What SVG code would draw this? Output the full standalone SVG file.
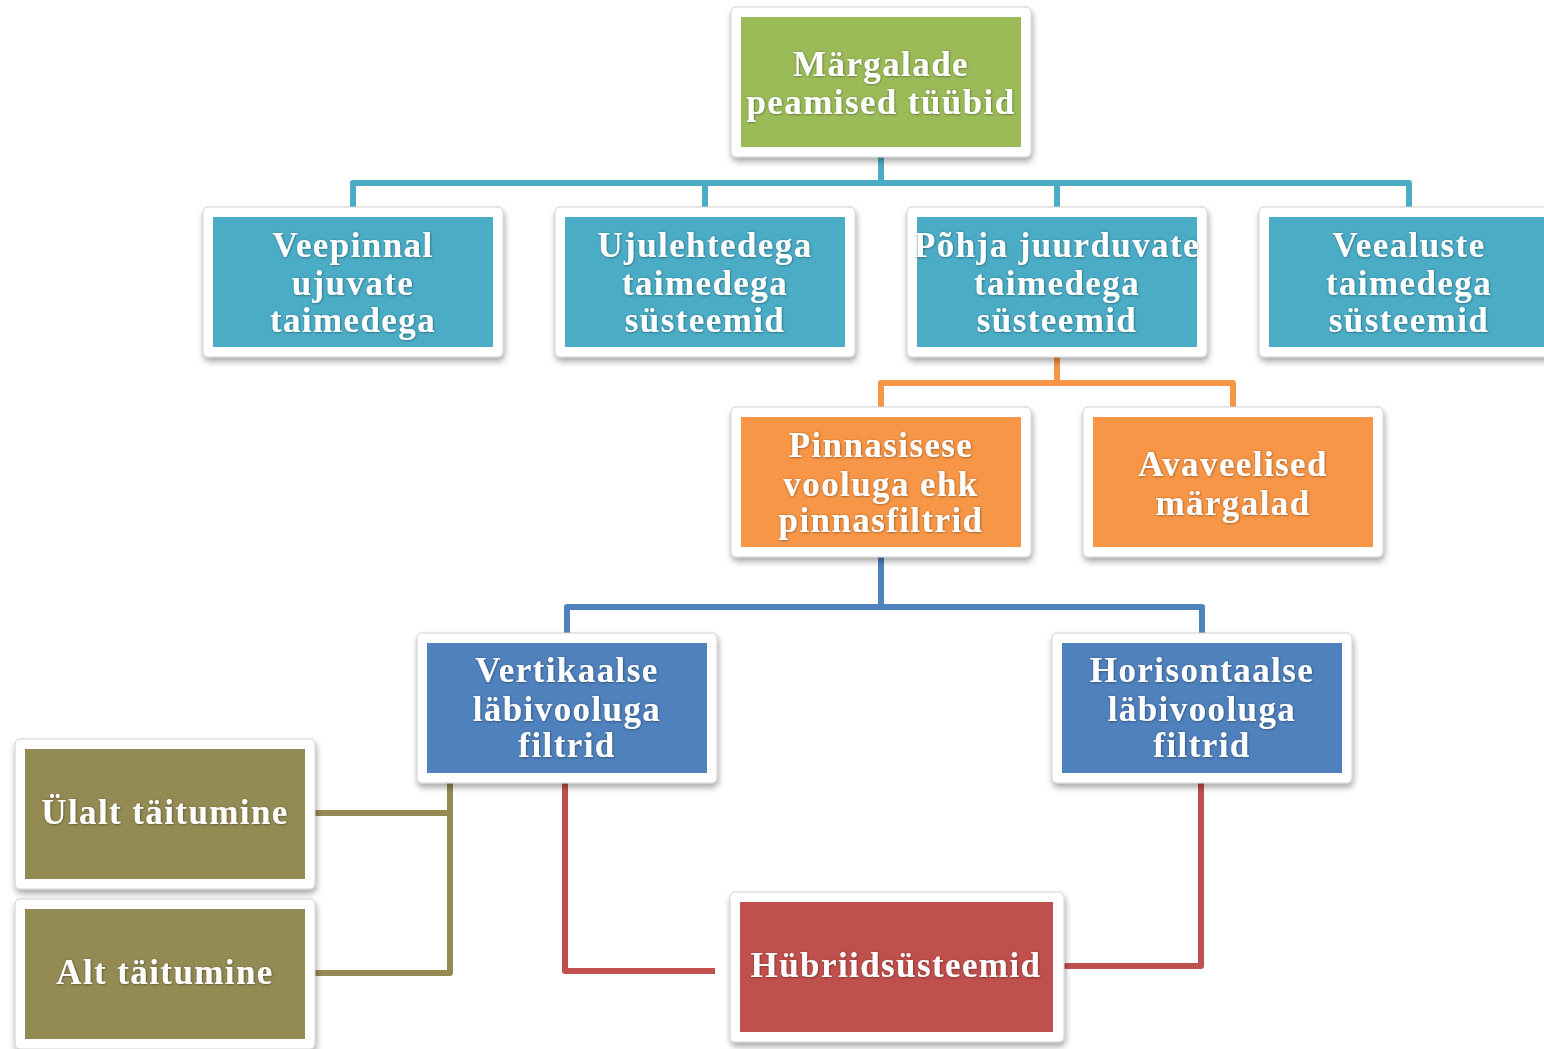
<svg xmlns="http://www.w3.org/2000/svg" width="1544" height="1049" viewBox="0 0 1544 1049">
<defs>
<filter id="sh" x="-10%" y="-10%" width="125%" height="130%">
<feDropShadow dx="1" dy="4" stdDeviation="3" flood-color="#000" flood-opacity="0.35"/>
</filter>
<filter id="ts" x="-5%" y="-20%" width="110%" height="150%">
<feDropShadow dx="0.5" dy="0.5" stdDeviation="0.8" flood-color="#000" flood-opacity="0.45"/>
</filter>
<style>
.frame{fill:#fff;stroke:#d0d0d0;stroke-width:1;filter:url(#sh)}
.t{font-family:"Liberation Serif","DejaVu Serif",serif;font-weight:bold;font-size:35px;fill:#fff;text-anchor:middle;letter-spacing:1.4px;filter:url(#ts)}
.c{fill:none;stroke-width:6;stroke-linejoin:round}
</style>
</defs>
<rect width="1544" height="1049" fill="#fff"/>
<g id="connectors">
<path class="c" stroke="#4BACC6" d="M881 157V183M353 207V183H1409V207M705 183V207M1057 183V207"/>
<path class="c" stroke="#F79646" d="M1057 357V383M881 407V383H1233V407"/>
<path class="c" stroke="#4F81BD" d="M881 557V607M567 633V607H1202V633"/>
<path class="c" stroke="#948A54" d="M450 783V973H315M450 813H315"/>
<path class="c" stroke="#C0504D" d="M565 783V971H715M1201 783V966H1064"/>
</g>
<g id="n0"><rect class="frame" x="731" y="7" width="300" height="150" rx="5"/><rect x="741" y="17" width="280" height="130" fill="#9BBB59"/>
<text class="t" x="881"><tspan x="881" y="76">Märgalade</tspan><tspan x="881" y="114">peamised tüübid</tspan></text></g>
<g id="n1"><rect class="frame" x="203" y="207" width="300" height="150" rx="5"/><rect x="213" y="217" width="280" height="130" fill="#4BACC6"/>
<text class="t"><tspan x="353" y="257">Veepinnal</tspan><tspan x="353" y="295">ujuvate</tspan><tspan x="353" y="332">taimedega</tspan></text></g>
<g id="n2"><rect class="frame" x="555" y="207" width="300" height="150" rx="5"/><rect x="565" y="217" width="280" height="130" fill="#4BACC6"/>
<text class="t"><tspan x="705" y="257">Ujulehtedega</tspan><tspan x="705" y="295">taimedega</tspan><tspan x="705" y="332">süsteemid</tspan></text></g>
<g id="n3"><rect class="frame" x="907" y="207" width="300" height="150" rx="5"/><rect x="917" y="217" width="280" height="130" fill="#4BACC6"/>
<text class="t"><tspan x="1057" y="257">Põhja juurduvate</tspan><tspan x="1057" y="295">taimedega</tspan><tspan x="1057" y="332">süsteemid</tspan></text></g>
<g id="n4"><rect class="frame" x="1259" y="207" width="300" height="150" rx="5"/><rect x="1269" y="217" width="280" height="130" fill="#4BACC6"/>
<text class="t"><tspan x="1409" y="257">Veealuste</tspan><tspan x="1409" y="295">taimedega</tspan><tspan x="1409" y="332">süsteemid</tspan></text></g>
<g id="n5"><rect class="frame" x="731" y="407" width="300" height="150" rx="5"/><rect x="741" y="417" width="280" height="130" fill="#F79646"/>
<text class="t"><tspan x="881" y="457">Pinnasisese</tspan><tspan x="881" y="496">vooluga ehk</tspan><tspan x="881" y="532">pinnasfiltrid</tspan></text></g>
<g id="n6"><rect class="frame" x="1083" y="407" width="300" height="150" rx="5"/><rect x="1093" y="417" width="280" height="130" fill="#F79646"/>
<text class="t"><tspan x="1233" y="476">Avaveelised</tspan><tspan x="1233" y="515">märgalad</tspan></text></g>
<g id="n7"><rect class="frame" x="417" y="633" width="300" height="150" rx="5"/><rect x="427" y="643" width="280" height="130" fill="#4F81BD"/>
<text class="t"><tspan x="567" y="682">Vertikaalse</tspan><tspan x="567" y="721">läbivooluga</tspan><tspan x="567" y="757">filtrid</tspan></text></g>
<g id="n8"><rect class="frame" x="1052" y="633" width="300" height="150" rx="5"/><rect x="1062" y="643" width="280" height="130" fill="#4F81BD"/>
<text class="t"><tspan x="1202" y="682">Horisontaalse</tspan><tspan x="1202" y="721">läbivooluga</tspan><tspan x="1202" y="757">filtrid</tspan></text></g>
<g id="n9"><rect class="frame" x="15" y="739" width="300" height="150" rx="5"/><rect x="25" y="749" width="280" height="130" fill="#948A54"/>
<text class="t"><tspan x="165" y="824">Ülalt täitumine</tspan></text></g>
<g id="n10"><rect class="frame" x="15" y="899" width="300" height="150" rx="5"/><rect x="25" y="909" width="280" height="130" fill="#948A54"/>
<text class="t"><tspan x="165" y="984">Alt täitumine</tspan></text></g>
<g id="n11"><rect class="frame" x="730" y="892" width="334" height="150" rx="5"/><rect x="740" y="902" width="313" height="130" fill="#C0504D"/>
<text class="t"><tspan x="896" y="977">Hübriidsüsteemid</tspan></text></g>
</svg>
